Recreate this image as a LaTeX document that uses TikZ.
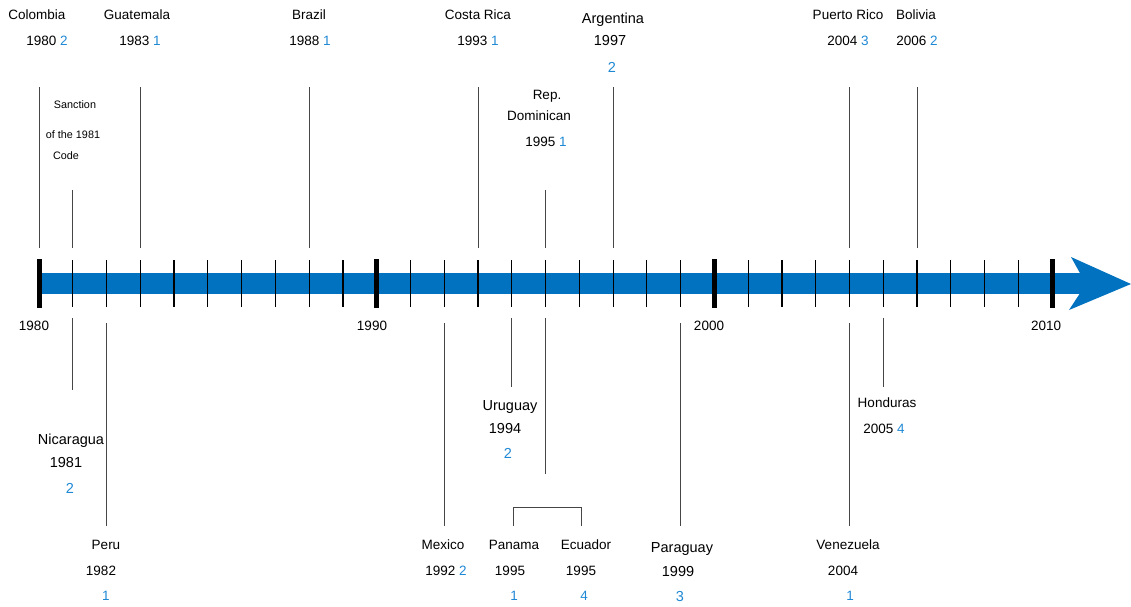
\documentclass[tikz,border=0pt]{standalone}
\usepackage{fontspec}
\setmainfont{Liberation Sans}
\definecolor{barblue}{RGB}{0,114,192}
\definecolor{numblue}{RGB}{30,136,212}
\definecolor{conn}{RGB}{70,70,70}
\newcommand{\yx}[1]{{39+(#1-1980)*33.77}}
\newcommand{\nb}[1]{\textcolor{numblue}{#1}}
\tikzset{
  lbl/.style={inner sep=0pt, font=\fontsize{13.5}{15}\selectfont, align=center},
  biglbl/.style={inner sep=0pt, font=\fontsize{14.5}{17}\selectfont, align=center},
  smalllbl/.style={inner sep=0pt, font=\fontsize{10.8}{13}\selectfont, align=center},
  connector/.style={draw=conn, line width=1pt},
  minortick/.style={draw=black, line width=1.2pt},
  majortick/.style={draw=black, line width=5pt}
}
\begin{document}
\begin{tikzpicture}[x=1pt,y=-1pt]
\useasboundingbox (0,0) rectangle (1131,606);
% bar and arrow head
\fill[barblue] (39,273) rectangle (1090,294);
\fill[barblue] (1071,257) -- (1131,284) -- (1069,310) -- (1086,284) -- cycle;
% ticks
\foreach \y in {1981,...,1989,1991,1992,...,1999,2001,2002,...,2009}
  \draw[minortick] (\yx{\y},260) -- (\yx{\y},307);
\foreach \y in {1980,1990,2000,2010}
  \draw[majortick] (\yx{\y},259) -- (\yx{\y},308);
% axis year labels
\node[lbl] (y1980) at (34,326) {1980};
\node[lbl] (y1990) at (372,326) {1990};
\node[lbl] (y2000) at (709,326) {2000};
\node[lbl] (y2010) at (1046,326) {2010};

% ---- upper labels ----
\node[lbl] (colombia) at (37,15) {Colombia};
\node[lbl] (colombiay) at (47,41) {1980 \nb{2}};
\node[lbl] (guatemala) at (137,15) {Guatemala};
\node[lbl] (guatemalay) at (140,41) {1983 \nb{1}};
\node[lbl] (brazil) at (309,15) {Brazil};
\node[lbl] (brazily) at (310,41) {1988 \nb{1}};
\node[lbl] (costarica) at (478,15) {Costa Rica};
\node[lbl] (costaricay) at (478,41) {1993 \nb{1}};
\node[biglbl] (argentina) at (613,20) {Argentina};
\node[biglbl] (argentinay) at (610,41) {1997};
\node[biglbl] (argentinan) at (612,67) {\nb{2}};
\node[lbl] (puertorico) at (848,15) {Puerto Rico};
\node[lbl] (puertoricoy) at (848,41) {2004 \nb{3}};
\node[lbl] (bolivia) at (916,15) {Bolivia};
\node[lbl] (boliviay) at (917,41) {2006 \nb{2}};
\node[smalllbl] (sanction1) at (75,105) {Sanction};
\node[smalllbl] (sanction2) at (73,135) {of the 1981};
\node[smalllbl] (sanction3) at (66,156) {Code};
\node[lbl] (repdom1) at (547,96) {Rep.};
\node[lbl] (repdom2) at (539,116) {Dominican};
\node[lbl] (repdomy) at (546,142) {1995 \nb{1}};

% ---- lower labels ----
\node[biglbl] (nicaragua) at (71,441) {Nicaragua};
\node[biglbl] (nicaraguay) at (66,462) {1981};
\node[biglbl] (nicaraguan) at (70,488) {\nb{2}};
\node[lbl] (peru) at (106,545) {Peru};
\node[lbl] (peruy) at (101,571) {1982};
\node[lbl] (perun) at (106,596) {\nb{1}};
\node[biglbl] (uruguay) at (510,407) {Uruguay};
\node[biglbl] (uruguayy) at (505,428) {1994};
\node[biglbl] (uruguayn) at (508,453) {\nb{2}};
\node[lbl] (honduras) at (887,403) {Honduras};
\node[lbl] (hondurasy) at (884,429) {2005 \nb{4}};
\node[lbl] (mexico) at (443,545) {Mexico};
\node[lbl] (mexicoy) at (446,571) {1992 \nb{2}};
\node[lbl] (panama) at (514,545) {Panama};
\node[lbl] (panamay) at (510,571) {1995};
\node[lbl] (panaman) at (514,596) {\nb{1}};
\node[lbl] (ecuador) at (586,545) {Ecuador};
\node[lbl] (ecuadory) at (581,571) {1995};
\node[lbl] (ecuadorn) at (584,596) {\nb{4}};
\node[biglbl] (paraguay) at (682,549) {Paraguay};
\node[biglbl] (paraguayy) at (678,571) {1999};
\node[biglbl] (paraguayn) at (680,596) {\nb{3}};
\node[lbl] (venezuela) at (848,545) {Venezuela};
\node[lbl] (venezuelay) at (843,571) {2004};
\node[lbl] (venezuelan) at (850,596) {\nb{1}};

% ---- connector end points ----
\coordinate (colT) at (\yx{1980},87);   \coordinate (colB) at (\yx{1980},248);
\coordinate (sanT) at (\yx{1981},190);  \coordinate (sanB) at (\yx{1981},248);
\coordinate (guaT) at (\yx{1983},87);   \coordinate (guaB) at (\yx{1983},248);
\coordinate (braT) at (\yx{1988},87);   \coordinate (braB) at (\yx{1988},248);
\coordinate (cosT) at (\yx{1993},87);   \coordinate (cosB) at (\yx{1993},248);
\coordinate (repT) at (\yx{1995},190);  \coordinate (repB) at (\yx{1995},248);
\coordinate (argT) at (\yx{1997},87);   \coordinate (argB) at (\yx{1997},248);
\coordinate (pueT) at (\yx{2004},87);   \coordinate (pueB) at (\yx{2004},248);
\coordinate (bolT) at (\yx{2006},87);   \coordinate (bolB) at (\yx{2006},248);

\coordinate (nicT) at (\yx{1981},318);  \coordinate (nicB) at (\yx{1981},390);
\coordinate (perT) at (\yx{1982},323);  \coordinate (perB) at (\yx{1982},526);
\coordinate (mexT) at (\yx{1992},323);  \coordinate (mexB) at (\yx{1992},526);
\coordinate (uruT) at (\yx{1994},318);  \coordinate (uruB) at (\yx{1994},387);
\coordinate (ecuT) at (\yx{1995},318);  \coordinate (ecuB) at (\yx{1995},474);
\coordinate (parT) at (\yx{1999},323);  \coordinate (parB) at (\yx{1999},526);
\coordinate (venT) at (\yx{2004},323);  \coordinate (venB) at (\yx{2004},526);
\coordinate (honT) at (\yx{2005},318);  \coordinate (honB) at (\yx{2005},387);
\coordinate (brL) at (513,526); \coordinate (brR) at (581,526);

% ---- connectors ----
\foreach \a/\b in {colT/colB,sanT/sanB,guaT/guaB,braT/braB,cosT/cosB,repT/repB,argT/argB,pueT/pueB,bolT/bolB,
  nicT/nicB,perT/perB,mexT/mexB,uruT/uruB,ecuT/ecuB,parT/parB,venT/venB,honT/honB}
  \draw[connector] (\a) -- (\b);
\draw[connector] (brL) -- ++(0,-19) -| (brR);
\end{tikzpicture}
\end{document}
